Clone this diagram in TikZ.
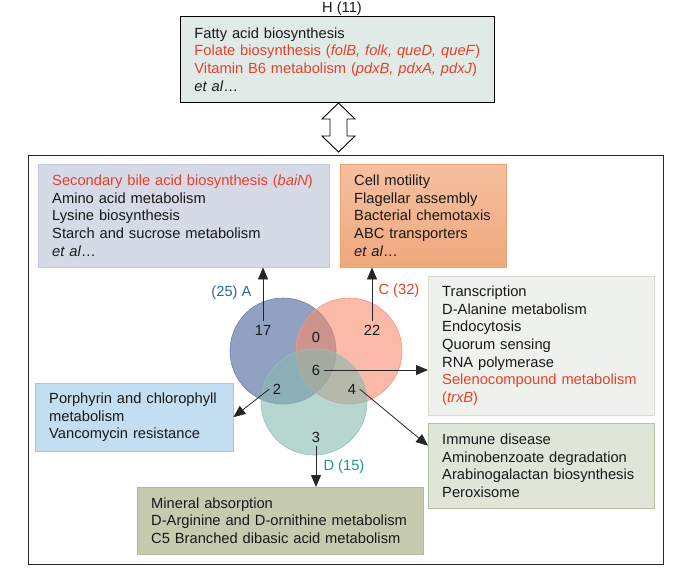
\documentclass[tikz,border=0pt]{standalone}
\usepackage{fontspec}
\setmainfont{Liberation Sans}
\usepackage{xcolor}
\usepackage{tikz}
\usetikzlibrary{arrows.meta, shapes, positioning}
\definecolor{pathred}{RGB}{232,64,40}
\definecolor{setblue}{RGB}{40,104,166}
\definecolor{setteal}{RGB}{30,150,136}
\definecolor{hfill}{RGB}{224,235,232}
\definecolor{afill}{RGB}{214,217,230}
\definecolor{aline}{RGB}{196,201,222}
\definecolor{ctop}{RGB}{245,192,160}
\definecolor{cbot}{RGB}{240,168,124}
\definecolor{cline}{RGB}{238,160,118}
\definecolor{tfill}{RGB}{239,241,236}
\definecolor{tline}{RGB}{214,219,206}
\definecolor{ifill}{RGB}{223,229,215}
\definecolor{iline}{RGB}{180,193,164}
\definecolor{pfill}{RGB}{195,221,241}
\definecolor{pline}{RGB}{166,198,227}
\definecolor{mfill}{RGB}{198,203,176}
\definecolor{mline}{RGB}{178,186,150}
\definecolor{circa}{RGB}{72,98,152}
\definecolor{circc}{RGB}{246,140,108}
\definecolor{circd}{RGB}{136,186,176}
\tikzstyle{pathway} = [rectangle, anchor=north west, inner xsep=14pt, inner ysep=0pt, align=left]
\tikzstyle{setcirc} = [circle, minimum size=106pt, inner sep=0pt, fill opacity=0.6, line width=0.6pt]
\tikzstyle{link} = [-{Triangle[length=12pt, width=10pt]}, line width=0.8pt, draw=black!85]

\begin{document}
\begin{tikzpicture}[x=1pt, y=-1pt, font=\fontsize{14.7}{17.6}\selectfont, text=black!90]
					\useasboundingbox (0,0) rectangle (700,574);

					\node (HTitle) at (342, 9) {H (11)};
					\node (HBox) [pathway, draw=black, line width=0.9pt, fill=hfill, text width=286pt, minimum height=86pt] at (180, 16) {Fatty acid biosynthesis\\
						\textcolor{pathred}{Folate biosynthesis (\textit{folB, folk, queD, queF})}\\
						\textcolor{pathred}{Vitamin B6 metabolism (\textit{pdxB, pdxA, pdxJ})}\\
						\textit{et al}\ldots};

					\node (Outer) [draw=black!85, line width=1.3pt, anchor=north west, minimum width=635pt, minimum height=409pt] at (28, 155) {};

					\coordinate (LinkTop) at (338.5, 103);
					\coordinate (LinkBot) at (338.5, 152);
					\draw [fill=white, line width=0.9pt] (LinkTop) -- ++(16.5, 16) -- ++(-8, 0) -- ++(0, 17) -- ++(8, 0) -- (LinkBot)
						-- ++(-16.5, -16) -- ++(8, 0) -- ++(0, -17) -- ++(-8, 0) -- cycle;

					\node (BoxA) [pathway, draw=aline, fill=afill, text width=263pt, minimum height=103pt] at (38, 164) {\textcolor{pathred}{\mbox{Secondary bile acid biosynthesis (\textit{baiN})}}\\
						Amino acid metabolism\\
						Lysine biosynthesis\\
						Starch and sucrose metabolism\\
						\textit{et al}\ldots};
					\node (BoxC) [pathway, draw=cline, top color=ctop, bottom color=cbot, text width=138pt, minimum height=103pt] at (340, 164) {Cell motility\\
						Flagellar assembly\\
						Bacterial chemotaxis\\
						ABC transporters\\
						\textit{et al}\ldots};
					\node (BoxT) [pathway, draw=tline, fill=tfill, text width=198pt, minimum height=139pt] at (428, 276) {Transcription\\
						D-Alanine metabolism\\
						Endocytosis\\
						Quorum sensing\\
						RNA polymerase\\
						\textcolor{pathred}{\mbox{Selenocompound metabolism}}\\
						\textcolor{pathred}{(\textit{trxB})}};
					\node (BoxI) [pathway, draw=iline, fill=ifill, text width=198pt, minimum height=85pt] at (428, 423) {Immune disease\\
						Aminobenzoate degradation\\
						\mbox{Arabinogalactan biosynthesis}\\
						Peroxisome};
					\node (BoxP) [pathway, draw=pline, fill=pfill, text width=170pt, minimum height=68pt] at (35, 383) {\mbox{Porphyrin and chlorophyll}\\
						metabolism\\
						Vancomycin resistance};
					\node (BoxM) [pathway, draw=mline, fill=mfill, text width=258pt, minimum height=67pt] at (137, 487) {Mineral absorption\\
						\mbox{D-Arginine and D-ornithine metabolism}\\
						\mbox{C5 Branched dibasic acid metabolism}};

					% venn sets
					\node (CircA) [setcirc, fill=circa, draw=circa!80] at (283, 351) {};
					\node (CircC) [setcirc, fill=circc, draw=circc!90] at (349, 351) {};
					\node (CircD) [setcirc, fill=circd, draw=circd!90] at (314, 402) {};

					\node (N17) at (263, 330) {17};
					\node (N0) at (316, 337) {0};
					\node (N22) at (372, 330) {22};
					\node (N6) at (316, 370) {6};
					\node (N2) at (277, 389) {2};
					\node (N4) at (352, 389) {4};
					\node (N3) at (316, 437) {3};

					\node (LabA) [anchor=east, text=setblue] at (255, 293) {(25) A};
					\node (LabC) [anchor=west, text=pathred] at (375, 291) {C (32)};
					\node (LabD) [anchor=west, text=setteal] at (320, 467) {D (15)};

					\draw [link] (N17.north) -- (N17.north |- BoxA.south);
					\draw [link] (N22.north) -- (N22.north |- BoxC.south);
					\draw [link] (N6.east) -- (N6.east -| BoxT.west);
					\draw [link] (N2.west) -- (BoxP.east);
					\draw [link] (N4.east) -- ([yshift=20pt]BoxI.west);
					\draw [link] (N3.south) -- (N3.south |- BoxM.north);
				\end{tikzpicture}
\end{document}
